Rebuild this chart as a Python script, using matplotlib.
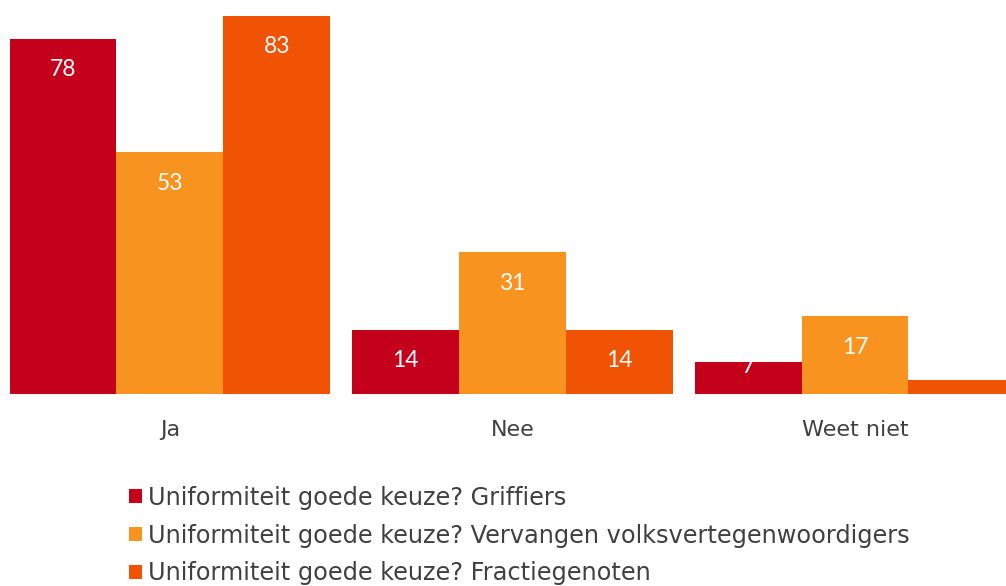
import matplotlib

matplotlib.use('Agg')
import matplotlib.pyplot as plt
from matplotlib.patches import Patch
import numpy as np

categories = ['Ja', 'Nee', 'Weet niet']
series = [
    'Uniformiteit goede keuze? Griffiers',
    'Uniformiteit goede keuze? Vervangen volksvertegenwoordigers',
    'Uniformiteit goede keuze? Fractiegenoten',
]
griffiers = [78, 14, 7]
vervangen = [53, 31, 17]
fractie = [83, 14, 3]
colors = ['#C5001A', '#F7931E', '#F05304']

values = [griffiers, vervangen, fractie]
text_col = '#404040'

fig = plt.figure(figsize=(10.06, 5.86), dpi=100)
ax = fig.add_axes([0, 1 - 393.5 / 586, 1, 393.5 / 586])

x = np.arange(len(categories))
w = 0.312
for i, (vals, c) in enumerate(zip(values, colors)):
    pos = x + (i - 1) * w
    ax.bar(pos, vals, width=w, color=c, edgecolor='none')
    for p, v in zip(pos, vals):
        # label sits inside the top, but not lower than a fixed height
        y = max(v - 6.8, 5.9)
        ax.text(p, y, str(v), ha='center', va='center', color='white',
                fontsize=16.5, family='Lato')

ax.set_xlim(-0.496, 2.441)
ax.set_ylim(0, 86.5)
ax.set_xticks(x)
ax.set_xticklabels(categories, fontsize=16, color=text_col)
ax.tick_params(axis='x', length=0, pad=19)
ax.set_yticks([])
for s in ax.spines.values():
    s.set_visible(False)

handles = [Patch(facecolor=c, edgecolor='none') for c in colors]
fig.legend(handles, series, loc='upper left', bbox_to_anchor=(119 / 1006, 1 - 476 / 586),
           frameon=False, fontsize=17.3, labelcolor=text_col, handlelength=0.54,
           handleheight=0.54, handletextpad=0.25, labelspacing=0.58, borderaxespad=0)

plt.savefig('out.png', dpi=100)
